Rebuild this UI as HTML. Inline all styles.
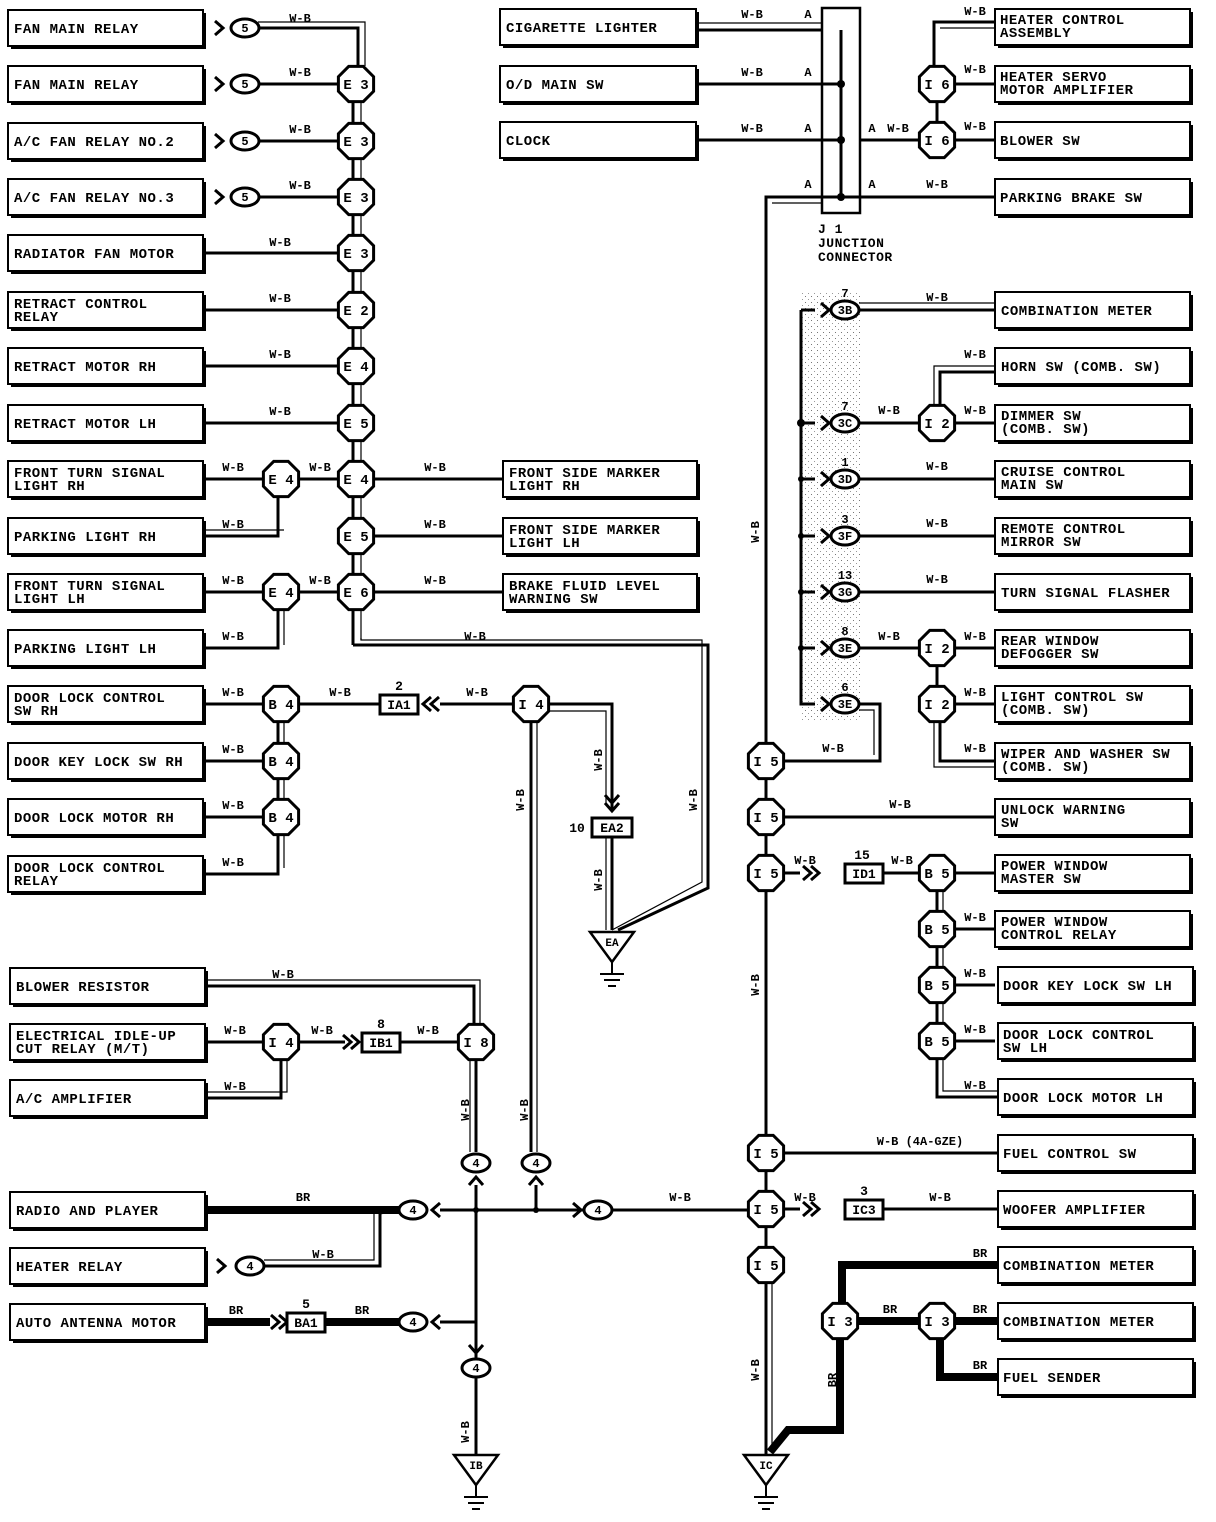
<!DOCTYPE html>
<html><head><meta charset="utf-8"><style>
html,body{margin:0;padding:0;background:#fff}
svg{display:block}
text{font-family:"Liberation Mono",monospace;font-weight:bold;fill:#000}
.b{font-size:14px;letter-spacing:0.5px}
.l{font-size:12px;text-anchor:middle}
.o{font-size:14px;text-anchor:middle}
.s{font-size:11px;text-anchor:middle}
.w{stroke:#000;stroke-width:3;fill:none}
.t{stroke:#000;stroke-width:1.2;fill:none}
.k{stroke:#000;stroke-width:8;fill:none}
</style></head><body>
<svg width="1216" height="1522" viewBox="0 0 1216 1522" xmlns="http://www.w3.org/2000/svg">
<defs>
<polygon id="oct" points="7.3,-17.6 17.6,-7.3 17.6,7.3 7.3,17.6 -7.3,17.6 -17.6,7.3 -17.6,-7.3 -7.3,-17.6" fill="#fff" stroke="#000" stroke-width="3"/>
<ellipse id="ov" cx="0" cy="0" rx="14" ry="9" fill="#fff" stroke="#000" stroke-width="3"/>
<path id="chr" d="M-7,-7 L1,0 L-7,7" fill="none" stroke="#000" stroke-width="3"/>
<g id="gnd"><line x1="0" y1="0" x2="0" y2="12" stroke="#000" stroke-width="2"/><line x1="-12" y1="12" x2="12" y2="12" stroke="#000" stroke-width="2"/><line x1="-8" y1="18" x2="8" y2="18" stroke="#000" stroke-width="2"/><line x1="-4" y1="24" x2="4" y2="24" stroke="#000" stroke-width="2"/></g>
<pattern id="dots" width="6" height="6" patternUnits="userSpaceOnUse"><rect x="1" y="2" width="1" height="1" fill="#777"/><rect x="4" y="5" width="1" height="1" fill="#999"/></pattern>
</defs>

<!-- stipple -->
<rect x="800" y="292" width="62" height="428" fill="url(#dots)"/>

<!-- ===== WIRES ===== -->
<!-- left rows 1-8 -->
<path class="w" d="M258,28 H358 V66"/><path class="t" d="M258,22 H365 V66"/>
<path class="w" d="M258,84 H338"/><path class="w" d="M258,141 H338"/><path class="w" d="M258,197 H338"/>
<path class="w" d="M203,253 H338"/><path class="w" d="M203,310 H338"/><path class="w" d="M203,366 H338"/><path class="w" d="M203,423 H338"/>
<line class="w" x1="353" y1="84" x2="353" y2="645"/><line class="t" x1="361" y1="84" x2="361" y2="640"/>
<!-- rows 9-12 -->
<path class="w" d="M203,479 H338"/><path class="w" d="M374,479 H503"/>
<path class="w" d="M203,536 H278 V479"/><path class="t" d="M203,530 H284"/>
<path class="w" d="M374,536 H503"/>
<path class="w" d="M203,592 H338"/><path class="w" d="M374,592 H503"/>
<path class="w" d="M203,648 H278 V592"/><path class="t" d="M284,592 V645"/>
<path class="w" d="M353,645 H708 V888 L618,930"/><path class="t" d="M361,638 V640 H702 V882 L612,930"/>
<!-- rows 13-16 -->
<path class="w" d="M203,704 H380"/><path class="w" d="M203,761 H263"/><path class="w" d="M203,817 H263"/>
<path class="w" d="M203,874 H278 V704"/><path class="t" d="M284,704 V868"/>
<path class="w" d="M440,704 H513"/>
<path class="w" d="M549,704 H612 V810"/><path class="t" d="M549,711 H606 V805"/>
<path class="w" d="M612,836 V930"/><path class="t" d="M606,836 V930"/>
<path class="w" d="M531,722 V1152"/><path class="t" d="M537,722 V1152"/>
<!-- bottom left -->
<path class="w" d="M207,986 H474 V1024"/><path class="t" d="M207,980 H480 V1024"/>
<path class="w" d="M207,1042 H263"/><path class="w" d="M299,1042 H345"/><path class="w" d="M400,1042 H458"/>
<path class="w" d="M207,1098 H281 V1060"/><path class="t" d="M207,1092 H287 V1060"/>
<path class="w" d="M476,1060 V1152"/><path class="t" d="M470,1060 V1152"/>
<path class="w" d="M476,1185 V1455"/><path class="w" d="M536,1185 V1210"/>
<path class="w" d="M440,1210 H584"/><path class="w" d="M612,1210 H748"/>
<circle cx="476" cy="1210" r="3"/><circle cx="536" cy="1210" r="3"/>
<path class="k" d="M207,1210 H399"/>
<path class="w" d="M264,1266 H380 V1213 L395,1210"/><path class="t" d="M264,1260 H374 V1210"/>
<path class="k" d="M207,1322 H270"/><path class="k" d="M325,1322 H399"/>
<path class="w" d="M440,1322 H476"/>
<!-- right top -->
<path class="w" d="M696,30 H822"/><path class="t" d="M696,23 H822"/>
<path class="w" d="M696,84 H841"/><path class="w" d="M696,140 H841"/>
<line class="w" x1="841" y1="30" x2="841" y2="197"/>
<circle cx="841" cy="84" r="4"/><circle cx="841" cy="140" r="4"/><circle cx="841" cy="197" r="4"/>
<path class="w" d="M860,140 H919"/><path class="w" d="M841,197 H995"/>
<path class="w" d="M841,197 H766 V1455"/><path class="t" d="M822,203 H772"/>
<path class="w" d="M995,22 H934 V66"/><path class="t" d="M995,28 H940"/>
<path class="w" d="M955,84 H995"/><path class="w" d="M955,140 H995"/>
<line class="w" x1="937" y1="102" x2="937" y2="122"/>
<!-- stipple column -->
<path class="w" d="M801,310 V704 H815"/>
<path class="w" d="M801,310 H815"/><path class="w" d="M801,423 H815"/><path class="w" d="M801,479 H815"/><path class="w" d="M801,536 H815"/><path class="w" d="M801,592 H815"/><path class="w" d="M801,648 H815"/>
<circle cx="801" cy="423" r="4"/><circle cx="801" cy="479" r="3"/><circle cx="801" cy="536" r="3"/><circle cx="801" cy="592" r="3"/><circle cx="801" cy="648" r="3"/>
<path class="w" d="M859,310 H995"/><path class="t" d="M859,303 H995"/>
<path class="w" d="M859,423 H919"/><path class="w" d="M955,423 H995"/>
<path class="w" d="M940,405 V372 H995"/><path class="t" d="M934,405 V366 H995"/>
<path class="w" d="M859,479 H995"/><path class="w" d="M859,536 H995"/><path class="w" d="M859,592 H995"/>
<path class="w" d="M859,648 H919"/><path class="w" d="M955,648 H995"/><path class="w" d="M955,704 H995"/>
<line class="w" x1="937" y1="666" x2="937" y2="686"/>
<path class="w" d="M940,722 V761 H995"/><path class="t" d="M934,722 V767 H995"/>
<path class="w" d="M859,704 H880 V761 H784"/><path class="t" d="M859,710 H874 V755"/>
<!-- I5 column -->
<path class="w" d="M784,817 H995"/>
<path class="w" d="M784,873 H800"/><path class="w" d="M883,873 H919"/><path class="w" d="M955,873 H995"/>
<path class="w" d="M955,929 H995"/><path class="w" d="M955,985 H995"/><path class="w" d="M955,1041 H995"/>
<path class="w" d="M937,891 V1097 H998"/><path class="t" d="M943,891 V1091 H998"/>
<path class="w" d="M784,1153 H998"/>
<path class="w" d="M784,1209 H800"/><path class="w" d="M883,1209 H998"/>
<path class="t" d="M772,1283 V1450"/>
<!-- BR -->
<path class="k" d="M998,1265 H842 V1303"/>
<path class="k" d="M858,1321 H919"/><path class="k" d="M955,1321 H998"/>
<path class="k" d="M940,1339 V1377 H998"/>
<path class="k" d="M840,1339 V1430 H788 L770,1452"/>

<!-- ===== CHEVRONS ===== -->
<use href="#chr" x="222" y="28"/><use href="#chr" x="222" y="84"/><use href="#chr" x="222" y="141"/><use href="#chr" x="222" y="197"/>
<use href="#chr" x="224" y="1266"/>
<g transform="translate(432,704) rotate(180)"><use href="#chr"/><use href="#chr" x="8"/></g>
<g transform="translate(612,810) rotate(90)"><use href="#chr"/><use href="#chr" x="-8"/></g>
<use href="#chr" x="350" y="1042"/><use href="#chr" x="358" y="1042"/>
<g transform="translate(476,1178) rotate(-90)"><use href="#chr"/></g>
<g transform="translate(536,1178) rotate(-90)"><use href="#chr"/></g>
<g transform="translate(433,1210) rotate(180)"><use href="#chr"/></g>
<g transform="translate(433,1322) rotate(180)"><use href="#chr"/></g>
<use href="#chr" x="580" y="1210"/>
<use href="#chr" x="278" y="1322"/><use href="#chr" x="286" y="1322"/>
<g transform="translate(476,1352) rotate(90)"><use href="#chr"/></g>
<use href="#chr" x="828" y="310"/><use href="#chr" x="828" y="423"/><use href="#chr" x="828" y="479"/><use href="#chr" x="828" y="536"/><use href="#chr" x="828" y="592"/><use href="#chr" x="828" y="648"/><use href="#chr" x="828" y="704"/>
<use href="#chr" x="810" y="873"/><use href="#chr" x="818" y="873"/>
<use href="#chr" x="810" y="1209"/><use href="#chr" x="818" y="1209"/>

<!-- J1 -->
<rect x="822" y="8" width="38" height="205" fill="none" stroke="#000" stroke-width="2.5"/>
<line class="w" x1="841" y1="30" x2="841" y2="197"/>
<text class="b" x="818" y="233" style="font-size:13px">J 1</text>
<text class="b" x="818" y="247" style="font-size:13px">JUNCTION</text>
<text class="b" x="818" y="261" style="font-size:13px">CONNECTOR</text>

<!-- ===== OCTAGONS ===== -->
<use href="#oct" x="356" y="84"/><use href="#oct" x="356" y="141"/><use href="#oct" x="356" y="197"/><use href="#oct" x="356" y="253"/>
<use href="#oct" x="356" y="310"/><use href="#oct" x="356" y="366"/><use href="#oct" x="356" y="423"/><use href="#oct" x="356" y="479"/>
<use href="#oct" x="356" y="536"/><use href="#oct" x="356" y="592"/>
<use href="#oct" x="281" y="479"/><use href="#oct" x="281" y="592"/>
<use href="#oct" x="281" y="704"/><use href="#oct" x="281" y="761"/><use href="#oct" x="281" y="817"/>
<use href="#oct" x="531" y="704"/>
<use href="#oct" x="281" y="1042"/><use href="#oct" x="476" y="1042"/>
<use href="#oct" x="937" y="84"/><use href="#oct" x="937" y="140"/>
<use href="#oct" x="937" y="423"/><use href="#oct" x="937" y="648"/><use href="#oct" x="937" y="704"/>
<use href="#oct" x="766" y="761"/><use href="#oct" x="766" y="817"/><use href="#oct" x="766" y="873"/>
<use href="#oct" x="766" y="1153"/><use href="#oct" x="766" y="1209"/><use href="#oct" x="766" y="1265"/>
<use href="#oct" x="937" y="873"/><use href="#oct" x="937" y="929"/><use href="#oct" x="937" y="985"/><use href="#oct" x="937" y="1041"/>
<use href="#oct" x="840" y="1321"/><use href="#oct" x="937" y="1321"/>
<g class="o">
<text x="356" y="89">E 3</text><text x="356" y="146">E 3</text><text x="356" y="202">E 3</text><text x="356" y="258">E 3</text>
<text x="356" y="315">E 2</text><text x="356" y="371">E 4</text><text x="356" y="428">E 5</text><text x="356" y="484">E 4</text>
<text x="356" y="541">E 5</text><text x="356" y="597">E 6</text>
<text x="281" y="484">E 4</text><text x="281" y="597">E 4</text>
<text x="281" y="709">B 4</text><text x="281" y="766">B 4</text><text x="281" y="822">B 4</text>
<text x="531" y="709">I 4</text><text x="281" y="1047">I 4</text><text x="476" y="1047">I 8</text>
<text x="937" y="89">I 6</text><text x="937" y="145">I 6</text>
<text x="937" y="428">I 2</text><text x="937" y="653">I 2</text><text x="937" y="709">I 2</text>
<text x="766" y="766">I 5</text><text x="766" y="822">I 5</text><text x="766" y="878">I 5</text>
<text x="766" y="1158">I 5</text><text x="766" y="1214">I 5</text><text x="766" y="1270">I 5</text>
<text x="937" y="878">B 5</text><text x="937" y="934">B 5</text><text x="937" y="990">B 5</text><text x="937" y="1046">B 5</text>
<text x="840" y="1326">I 3</text><text x="937" y="1326">I 3</text>
</g>

<!-- ===== OVALS ===== -->
<use href="#ov" x="245" y="28"/><use href="#ov" x="245" y="84"/><use href="#ov" x="245" y="141"/><use href="#ov" x="245" y="197"/>
<use href="#ov" x="250" y="1266"/><use href="#ov" x="413" y="1210"/><use href="#ov" x="413" y="1322"/>
<use href="#ov" x="476" y="1163"/><use href="#ov" x="536" y="1163"/><use href="#ov" x="598" y="1210"/><use href="#ov" x="476" y="1368"/>
<use href="#ov" x="845" y="310"/><use href="#ov" x="845" y="423"/><use href="#ov" x="845" y="479"/><use href="#ov" x="845" y="536"/>
<use href="#ov" x="845" y="592"/><use href="#ov" x="845" y="648"/><use href="#ov" x="845" y="704"/>
<g class="o" style="font-size:12px">
<text x="245" y="32">5</text><text x="245" y="88">5</text><text x="245" y="145">5</text><text x="245" y="201">5</text>
<text x="250" y="1270">4</text><text x="413" y="1214">4</text><text x="413" y="1326">4</text>
<text x="476" y="1167">4</text><text x="536" y="1167">4</text><text x="598" y="1214">4</text><text x="476" y="1372">4</text>
<text x="845" y="314">3B</text><text x="845" y="427">3C</text><text x="845" y="483">3D</text><text x="845" y="540">3F</text>
<text x="845" y="596">3G</text><text x="845" y="652">3E</text><text x="845" y="708">3E</text>
<text x="845" y="297">7</text><text x="845" y="410">7</text><text x="845" y="466">1</text><text x="845" y="523">3</text>
<text x="845" y="579">13</text><text x="845" y="635">8</text><text x="845" y="691">6</text>
</g>

<!-- ===== SMALL CONNECTOR BOXES ===== -->
<g fill="#fff" stroke="#000" stroke-width="3">
<rect x="380" y="695" width="38" height="19"/><rect x="592" y="818" width="40" height="19"/>
<rect x="362" y="1033" width="38" height="19"/><rect x="287" y="1313" width="38" height="19"/>
<rect x="845" y="864" width="38" height="19"/><rect x="845" y="1200" width="38" height="19"/>
</g>
<g class="o" style="font-size:13px">
<text x="399" y="709">IA1</text><text x="399" y="690">2</text>
<text x="612" y="832">EA2</text><text x="577" y="832">10</text>
<text x="381" y="1047">IB1</text><text x="381" y="1028">8</text>
<text x="306" y="1327">BA1</text><text x="306" y="1308">5</text>
<text x="864" y="878">ID1</text><text x="862" y="859">15</text>
<text x="864" y="1214">IC3</text><text x="864" y="1195">3</text>
</g>

<!-- ===== GROUNDS ===== -->
<polygon points="590,932 634,932 612,962" fill="#fff" stroke="#000" stroke-width="2.5"/><text class="s" x="612" y="946">EA</text><use href="#gnd" x="612" y="962"/>
<polygon points="454,1455 498,1455 476,1485" fill="#fff" stroke="#000" stroke-width="2.5"/><text class="s" x="476" y="1469">IB</text><use href="#gnd" x="476" y="1485"/>
<polygon points="744,1455 788,1455 766,1485" fill="#fff" stroke="#000" stroke-width="2.5"/><text class="s" x="766" y="1469">IC</text><use href="#gnd" x="766" y="1485"/>

<!-- ===== WIRE LABELS ===== -->
<g class="l">
<text x="300" y="22">W-B</text><text x="300" y="76">W-B</text><text x="300" y="133">W-B</text><text x="300" y="189">W-B</text>
<text x="280" y="246">W-B</text><text x="280" y="302">W-B</text><text x="280" y="358">W-B</text><text x="280" y="415">W-B</text>
<text x="233" y="471">W-B</text><text x="320" y="471">W-B</text><text x="435" y="471">W-B</text>
<text x="233" y="528">W-B</text><text x="435" y="528">W-B</text>
<text x="233" y="584">W-B</text><text x="320" y="584">W-B</text><text x="435" y="584">W-B</text>
<text x="233" y="640">W-B</text><text x="475" y="640">W-B</text>
<text x="233" y="696">W-B</text><text x="340" y="696">W-B</text><text x="477" y="696">W-B</text>
<text x="233" y="753">W-B</text><text x="233" y="809">W-B</text><text x="233" y="866">W-B</text>
<text x="283" y="978">W-B</text><text x="235" y="1034">W-B</text><text x="322" y="1034">W-B</text><text x="428" y="1034">W-B</text><text x="235" y="1090">W-B</text>
<text x="303" y="1201">BR</text><text x="323" y="1258">W-B</text><text x="680" y="1201">W-B</text>
<text x="236" y="1314">BR</text><text x="362" y="1314">BR</text>
<text x="752" y="18">W-B</text><text x="808" y="18">A</text>
<text x="752" y="76">W-B</text><text x="808" y="76">A</text>
<text x="752" y="132">W-B</text><text x="808" y="132">A</text>
<text x="808" y="188">A</text><text x="872" y="132">A</text><text x="898" y="132">W-B</text>
<text x="872" y="188">A</text><text x="937" y="188">W-B</text>
<text x="975" y="15">W-B</text><text x="975" y="73">W-B</text><text x="975" y="130">W-B</text>
<text x="937" y="301">W-B</text><text x="975" y="358">W-B</text><text x="889" y="414">W-B</text><text x="975" y="414">W-B</text>
<text x="937" y="470">W-B</text><text x="937" y="527">W-B</text><text x="937" y="583">W-B</text>
<text x="889" y="640">W-B</text><text x="975" y="640">W-B</text><text x="975" y="696">W-B</text><text x="975" y="752">W-B</text>
<text x="833" y="752">W-B</text><text x="900" y="808">W-B</text>
<text x="805" y="864">W-B</text><text x="902" y="864">W-B</text>
<text x="975" y="921">W-B</text><text x="975" y="977">W-B</text><text x="975" y="1033">W-B</text><text x="975" y="1089">W-B</text>
<text x="920" y="1145">W-B (4A-GZE)</text>
<text x="805" y="1201">W-B</text><text x="940" y="1201">W-B</text>
<text x="980" y="1257">BR</text><text x="890" y="1313">BR</text><text x="980" y="1313">BR</text><text x="980" y="1369">BR</text>
</g>
<g class="l">
<text transform="translate(524,800) rotate(-90)">W-B</text>
<text transform="translate(602,760) rotate(-90)">W-B</text>
<text transform="translate(602,880) rotate(-90)">W-B</text>
<text transform="translate(697,800) rotate(-90)">W-B</text>
<text transform="translate(469,1110) rotate(-90)">W-B</text>
<text transform="translate(528,1110) rotate(-90)">W-B</text>
<text transform="translate(469,1432) rotate(-90)">W-B</text>
<text transform="translate(759,532) rotate(-90)">W-B</text>
<text transform="translate(759,985) rotate(-90)">W-B</text>
<text transform="translate(759,1370) rotate(-90)">W-B</text>
<text transform="translate(836,1380) rotate(-90)">BR</text>
</g>

<!-- ===== BOXES ===== -->
<g fill="#000">
<rect x="11" y="13" width="195" height="36"/><rect x="11" y="69" width="195" height="36"/><rect x="11" y="126" width="195" height="36"/><rect x="11" y="182" width="195" height="36"/>
<rect x="11" y="238" width="195" height="36"/><rect x="11" y="295" width="195" height="36"/><rect x="11" y="351" width="195" height="36"/><rect x="11" y="408" width="195" height="36"/>
<rect x="11" y="464" width="195" height="36"/><rect x="11" y="521" width="195" height="36"/><rect x="11" y="577" width="195" height="36"/><rect x="11" y="633" width="195" height="36"/>
<rect x="11" y="689" width="195" height="36"/><rect x="11" y="746" width="195" height="36"/><rect x="11" y="802" width="195" height="36"/><rect x="11" y="859" width="195" height="36"/>
<rect x="13" y="971" width="195" height="36"/><rect x="13" y="1027" width="195" height="36"/><rect x="13" y="1083" width="195" height="36"/>
<rect x="13" y="1195" width="195" height="36"/><rect x="13" y="1251" width="195" height="36"/><rect x="13" y="1307" width="195" height="36"/>
<rect x="506" y="464" width="194" height="36"/><rect x="506" y="521" width="194" height="36"/><rect x="506" y="577" width="194" height="36"/>
<rect x="503" y="12" width="196" height="36"/><rect x="503" y="69" width="196" height="36"/><rect x="503" y="125" width="196" height="36"/>
<rect x="998" y="12" width="195" height="36"/><rect x="998" y="69" width="195" height="36"/><rect x="998" y="125" width="195" height="36"/><rect x="998" y="182" width="195" height="36"/>
<rect x="998" y="295" width="195" height="36"/><rect x="998" y="351" width="195" height="36"/><rect x="998" y="408" width="195" height="36"/><rect x="998" y="464" width="195" height="36"/>
<rect x="998" y="521" width="195" height="36"/><rect x="998" y="577" width="195" height="36"/><rect x="998" y="633" width="195" height="36"/><rect x="998" y="689" width="195" height="36"/>
<rect x="998" y="746" width="195" height="36"/><rect x="998" y="802" width="195" height="36"/><rect x="998" y="858" width="195" height="36"/><rect x="998" y="914" width="195" height="36"/>
<rect x="1001" y="970" width="195" height="36"/><rect x="1001" y="1026" width="195" height="36"/><rect x="1001" y="1082" width="195" height="36"/><rect x="1001" y="1138" width="195" height="36"/>
<rect x="1001" y="1194" width="195" height="36"/><rect x="1001" y="1250" width="195" height="36"/><rect x="1001" y="1306" width="195" height="36"/><rect x="1001" y="1362" width="195" height="36"/>
</g>
<g fill="#fff" stroke="#000" stroke-width="2">
<rect x="8" y="10" width="195" height="36"/><rect x="8" y="66" width="195" height="36"/><rect x="8" y="123" width="195" height="36"/><rect x="8" y="179" width="195" height="36"/>
<rect x="8" y="235" width="195" height="36"/><rect x="8" y="292" width="195" height="36"/><rect x="8" y="348" width="195" height="36"/><rect x="8" y="405" width="195" height="36"/>
<rect x="8" y="461" width="195" height="36"/><rect x="8" y="518" width="195" height="36"/><rect x="8" y="574" width="195" height="36"/><rect x="8" y="630" width="195" height="36"/>
<rect x="8" y="686" width="195" height="36"/><rect x="8" y="743" width="195" height="36"/><rect x="8" y="799" width="195" height="36"/><rect x="8" y="856" width="195" height="36"/>
<rect x="10" y="968" width="195" height="36"/><rect x="10" y="1024" width="195" height="36"/><rect x="10" y="1080" width="195" height="36"/>
<rect x="10" y="1192" width="195" height="36"/><rect x="10" y="1248" width="195" height="36"/><rect x="10" y="1304" width="195" height="36"/>
<rect x="503" y="461" width="194" height="36"/><rect x="503" y="518" width="194" height="36"/><rect x="503" y="574" width="194" height="36"/>
<rect x="500" y="9" width="196" height="36"/><rect x="500" y="66" width="196" height="36"/><rect x="500" y="122" width="196" height="36"/>
<rect x="995" y="9" width="195" height="36"/><rect x="995" y="66" width="195" height="36"/><rect x="995" y="122" width="195" height="36"/><rect x="995" y="179" width="195" height="36"/>
<rect x="995" y="292" width="195" height="36"/><rect x="995" y="348" width="195" height="36"/><rect x="995" y="405" width="195" height="36"/><rect x="995" y="461" width="195" height="36"/>
<rect x="995" y="518" width="195" height="36"/><rect x="995" y="574" width="195" height="36"/><rect x="995" y="630" width="195" height="36"/><rect x="995" y="686" width="195" height="36"/>
<rect x="995" y="743" width="195" height="36"/><rect x="995" y="799" width="195" height="36"/><rect x="995" y="855" width="195" height="36"/><rect x="995" y="911" width="195" height="36"/>
<rect x="998" y="967" width="195" height="36"/><rect x="998" y="1023" width="195" height="36"/><rect x="998" y="1079" width="195" height="36"/><rect x="998" y="1135" width="195" height="36"/>
<rect x="998" y="1191" width="195" height="36"/><rect x="998" y="1247" width="195" height="36"/><rect x="998" y="1303" width="195" height="36"/><rect x="998" y="1359" width="195" height="36"/>
</g>
<g class="b">
<text x="14" y="33">FAN MAIN RELAY</text>
<text x="14" y="89">FAN MAIN RELAY</text>
<text x="14" y="146">A/C FAN RELAY NO.2</text>
<text x="14" y="202">A/C FAN RELAY NO.3</text>
<text x="14" y="258">RADIATOR FAN MOTOR</text>
<text x="14" y="308">RETRACT CONTROL</text><text x="14" y="321">RELAY</text>
<text x="14" y="371">RETRACT MOTOR RH</text>
<text x="14" y="428">RETRACT MOTOR LH</text>
<text x="14" y="477">FRONT TURN SIGNAL</text><text x="14" y="490">LIGHT RH</text>
<text x="14" y="541">PARKING LIGHT RH</text>
<text x="14" y="590">FRONT TURN SIGNAL</text><text x="14" y="603">LIGHT LH</text>
<text x="14" y="653">PARKING LIGHT LH</text>
<text x="14" y="702">DOOR LOCK CONTROL</text><text x="14" y="715">SW RH</text>
<text x="14" y="766">DOOR KEY LOCK SW RH</text>
<text x="14" y="822">DOOR LOCK MOTOR RH</text>
<text x="14" y="872">DOOR LOCK CONTROL</text><text x="14" y="885">RELAY</text>
<text x="16" y="991">BLOWER RESISTOR</text>
<text x="16" y="1040">ELECTRICAL IDLE-UP</text><text x="16" y="1053">CUT RELAY (M/T)</text>
<text x="16" y="1103">A/C AMPLIFIER</text>
<text x="16" y="1215">RADIO AND PLAYER</text>
<text x="16" y="1271">HEATER RELAY</text>
<text x="16" y="1327">AUTO ANTENNA MOTOR</text>
<text x="509" y="477">FRONT SIDE MARKER</text><text x="509" y="490">LIGHT RH</text>
<text x="509" y="534">FRONT SIDE MARKER</text><text x="509" y="547">LIGHT LH</text>
<text x="509" y="590">BRAKE FLUID LEVEL</text><text x="509" y="603">WARNING SW</text>
<text x="506" y="32">CIGARETTE LIGHTER</text>
<text x="506" y="89">O/D MAIN SW</text>
<text x="506" y="145">CLOCK</text>
<text x="1000" y="24">HEATER CONTROL</text><text x="1000" y="37">ASSEMBLY</text>
<text x="1000" y="81">HEATER SERVO</text><text x="1000" y="94">MOTOR AMPLIFIER</text>
<text x="1000" y="145">BLOWER SW</text>
<text x="1000" y="202">PARKING BRAKE SW</text>
<text x="1001" y="315">COMBINATION METER</text>
<text x="1001" y="371">HORN SW (COMB. SW)</text>
<text x="1001" y="420">DIMMER SW</text><text x="1001" y="433">(COMB. SW)</text>
<text x="1001" y="476">CRUISE CONTROL</text><text x="1001" y="489">MAIN SW</text>
<text x="1001" y="533">REMOTE CONTROL</text><text x="1001" y="546">MIRROR SW</text>
<text x="1001" y="597">TURN SIGNAL FLASHER</text>
<text x="1001" y="645">REAR WINDOW</text><text x="1001" y="658">DEFOGGER SW</text>
<text x="1001" y="701">LIGHT CONTROL SW</text><text x="1001" y="714">(COMB. SW)</text>
<text x="1001" y="758">WIPER AND WASHER SW</text><text x="1001" y="771">(COMB. SW)</text>
<text x="1001" y="814">UNLOCK WARNING</text><text x="1001" y="827">SW</text>
<text x="1001" y="870">POWER WINDOW</text><text x="1001" y="883">MASTER SW</text>
<text x="1001" y="926">POWER WINDOW</text><text x="1001" y="939">CONTROL RELAY</text>
<text x="1003" y="990">DOOR KEY LOCK SW LH</text>
<text x="1003" y="1039">DOOR LOCK CONTROL</text><text x="1003" y="1052">SW LH</text>
<text x="1003" y="1102">DOOR LOCK MOTOR LH</text>
<text x="1003" y="1158">FUEL CONTROL SW</text>
<text x="1003" y="1214">WOOFER AMPLIFIER</text>
<text x="1003" y="1270">COMBINATION METER</text>
<text x="1003" y="1326">COMBINATION METER</text>
<text x="1003" y="1382">FUEL SENDER</text>
</g>
</svg>
</body></html>
